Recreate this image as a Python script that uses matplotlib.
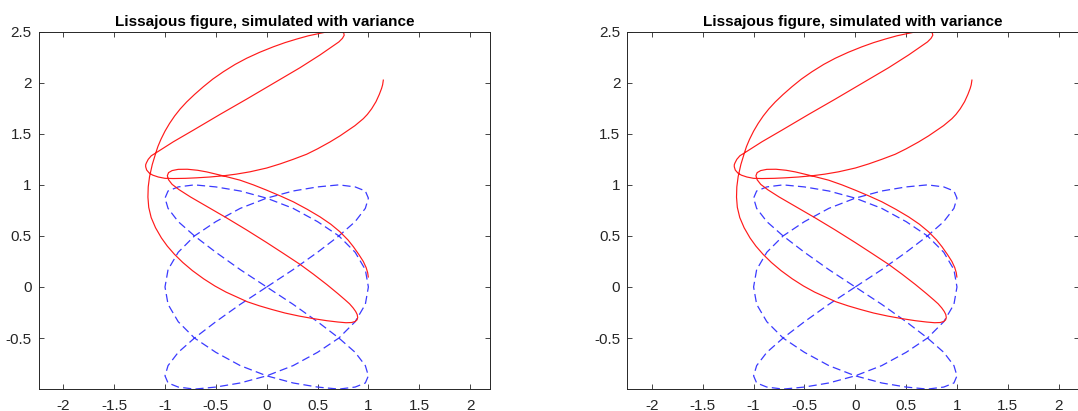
import matplotlib
matplotlib.use('Agg')
import matplotlib.pyplot as plt

plt.rcParams['font.family'] = ['Liberation Sans', 'DejaVu Sans']

# Lissajous figure (dashed blue), one full period
liss_x = [0.0, 0.26, 0.5, 0.71, 0.87, 0.97, 1.0, 0.97, 0.87, 0.71, 0.5, 0.26,
          0.0, -0.26, -0.5, -0.71, -0.87, -0.97, -1.0, -0.97, -0.87, -0.71, -0.5, -0.26,
          0.0, 0.26, 0.5, 0.71, 0.87, 0.97, 1.0, 0.97, 0.87, 0.71, 0.5, 0.26,
          0.0, -0.26, -0.5, -0.71, -0.87, -0.97, -1.0, -0.97, -0.87, -0.71, -0.5, -0.26,
          0.0, 0.26, 0.5, 0.71, 0.87, 0.97, 1.0, 0.97, 0.87, 0.71, 0.5, 0.26,
          0.0, -0.26, -0.5, -0.71, -0.87, -0.97, -1.0, -0.97, -0.87, -0.71, -0.5, -0.26,
          0.0]
liss_y = [0.0, 0.17, 0.34, 0.5, 0.64, 0.77, 0.87, 0.94, 0.98, 1.0, 0.98, 0.94,
          0.87, 0.77, 0.64, 0.5, 0.34, 0.17, 0.0, -0.17, -0.34, -0.5, -0.64, -0.77,
          -0.87, -0.94, -0.98, -1.0, -0.98, -0.94, -0.87, -0.77, -0.64, -0.5, -0.34, -0.17,
          0.0, 0.17, 0.34, 0.5, 0.64, 0.77, 0.87, 0.94, 0.98, 1.0, 0.98, 0.94,
          0.87, 0.77, 0.64, 0.5, 0.34, 0.17, 0.0, -0.17, -0.34, -0.5, -0.64, -0.77,
          -0.87, -0.94, -0.98, -1.0, -0.98, -0.94, -0.87, -0.77, -0.64, -0.5, -0.34, -0.17,
          0.0]

# simulated path (solid red), from its upper-right end to its lower-right end
sim_x = [1.147, 1.14, 1.13, 1.107, 1.075, 1.032, 0.99, 0.95, 0.868, 0.721,
         0.622, 0.5, 0.393, 0.26, 0.131, 0.0, -0.164, -0.3, -0.426, -0.56,
         -0.689, -0.8, -0.918, -1.0, -1.066, -1.12, -1.154, -1.18, -1.19, -1.19,
         -1.183, -1.165, -1.135, -1.082, -0.918, -0.721, -0.459, -0.197, 0.065, 0.327,
         0.524, 0.655, 0.71, 0.745, 0.762, 0.758, 0.735, 0.7, 0.65, 0.6,
         0.524, 0.41, 0.295, 0.18, 0.065, -0.07, -0.197, -0.31, -0.426, -0.53,
         -0.623, -0.71, -0.787, -0.85, -0.905, -0.955, -1.0, -1.04, -1.07, -1.085,
         -1.125, -1.152, -1.165, -1.168, -1.16, -1.136, -1.093, -1.035, -0.977, -0.907,
         -0.825, -0.73, -0.62, -0.51, -0.4, -0.29, -0.19, -0.07, 0.05, 0.18,
         0.32, 0.46, 0.59, 0.7, 0.78, 0.835, 0.87, 0.888, 0.895, 0.89,
         0.875, 0.85, 0.815, 0.77, 0.7, 0.59, 0.46, 0.33, 0.17, 0.0,
         -0.2, -0.4, -0.6, -0.75, -0.86, -0.93, -0.965, -0.977, -0.965, -0.93,
         -0.87, -0.78, -0.68, -0.59, -0.426, -0.262, -0.131, 0.0, 0.131, 0.262,
         0.4, 0.524, 0.63, 0.721, 0.8, 0.852, 0.905, 0.95, 0.978, 0.993,
         0.999]
sim_y = [2.026, 1.98, 1.945, 1.885, 1.815, 1.745, 1.69, 1.648, 1.58, 1.48,
         1.42, 1.353, 1.3, 1.25, 1.205, 1.165, 1.128, 1.105, 1.089, 1.077,
         1.069, 1.064, 1.062, 1.064, 1.077, 1.095, 1.115, 1.145, 1.177, 1.197,
         1.215, 1.25, 1.285, 1.318, 1.422, 1.536, 1.69, 1.84, 1.994, 2.147,
         2.272, 2.363, 2.4, 2.435, 2.465, 2.487, 2.502, 2.508, 2.507, 2.5,
         2.484, 2.46, 2.428, 2.393, 2.352, 2.298, 2.24, 2.18, 2.108, 2.036,
         1.961, 1.885, 1.812, 1.744, 1.675, 1.602, 1.526, 1.446, 1.375, 1.33,
         1.2, 1.08, 0.98, 0.88, 0.78, 0.68, 0.58, 0.48, 0.4, 0.32,
         0.24, 0.16, 0.08, 0.01, -0.05, -0.1, -0.145, -0.185, -0.22, -0.255,
         -0.285, -0.31, -0.33, -0.343, -0.35, -0.348, -0.338, -0.322, -0.3, -0.27,
         -0.24, -0.205, -0.165, -0.125, -0.065, 0.025, 0.125, 0.22, 0.325, 0.435,
         0.56, 0.68, 0.795, 0.882, 0.952, 1.005, 1.05, 1.09, 1.12, 1.14,
         1.152, 1.153, 1.143, 1.127, 1.088, 1.046, 1.0, 0.948, 0.893, 0.834,
         0.76, 0.687, 0.615, 0.54, 0.46, 0.395, 0.32, 0.25, 0.19, 0.14,
         0.098]

x_ticks = [-2, -1.5, -1, -0.5, 0, 0.5, 1, 1.5, 2]
y_ticks = [-0.5, 0, 0.5, 1, 1.5, 2, 2.5]
x_tick_labels = ['-2', '-1.5', '-1', '-0.5', '0', '0.5', '1', '1.5', '2']
y_tick_labels = ['-0.5', '0', '0.5', '1', '1.5', '2', '2.5']

W, H = 1078, 411
fig = plt.figure(figsize=(W / 100, H / 100), dpi=100)

axes_boxes = [(38.7, 451.3), (627.3, 451.3)]
bottom_px, top_px = 389.0, 31.7

for left_px, width_px in axes_boxes:
    ax = fig.add_axes([left_px / W, (H - bottom_px) / H,
                       width_px / W, (bottom_px - top_px) / H])
    ax.plot(liss_x, liss_y, color='#3a3aff', linestyle=(0, (6.5, 3.4)), linewidth=0.9)
    ax.plot(sim_x, sim_y, color='#ff1a1a', linewidth=0.85)

    ax.set_xlim(-2.242, 2.196)
    ax.set_ylim(-0.999, 2.5)
    ax.set_xticks(x_ticks)
    ax.set_xticklabels(x_tick_labels)
    ax.set_yticks(y_ticks)
    ax.set_yticklabels(y_tick_labels)
    ax.tick_params(direction='in', length=3.5, width=0.6, colors='#262626',
                   labelsize=11, top=True, right=True)
    ax.tick_params(axis='x', pad=7)
    ax.tick_params(axis='y', pad=5)
    for side in ax.spines.values():
        side.set_color('#262626')
        side.set_linewidth(0.7)
    ax.set_title('Lissajous figure, simulated with variance', fontsize=11,
                 fontweight='bold', color='black', pad=4)

fig.savefig('out.png', dpi=100)
